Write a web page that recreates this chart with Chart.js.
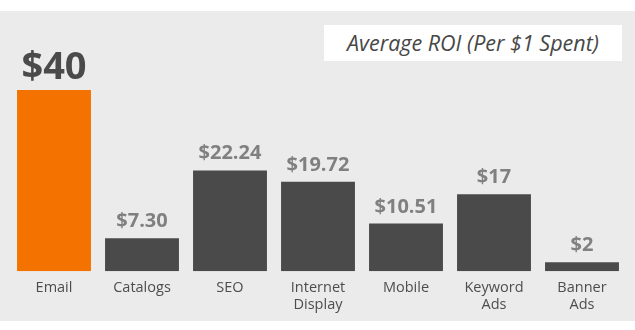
<!DOCTYPE html>
<html>
<head>
<meta charset="utf-8">
<script src="https://cdn.jsdelivr.net/npm/chart.js@4/dist/chart.umd.min.js"></script>
<style>
  html,body{margin:0;padding:0;background:#fff;}
  body{width:635px;height:330px;position:relative;overflow:hidden;font-family:"Open Sans",sans-serif;}
  #panel{position:absolute;left:0;top:11px;width:635px;height:310px;background:#ebebeb;}
  #chartWrap{position:absolute;left:0;top:0;width:635px;height:310px;}
  #titleBox{position:absolute;left:324px;top:14px;width:298px;height:36px;background:#fff;
    color:#474747;font-style:italic;font-size:21.5px;line-height:36px;text-align:center;}
</style>
</head>
<body>
<div id="panel">
  <div id="chartWrap"><canvas id="roiBar"></canvas></div>
  <div id="titleBox">Average ROI (Per $1 Spent)</div>
</div>
<script>
  // valores
  const categories = [['Email'], ['Catalogs'], ['SEO'], ['Internet','Display'], ['Mobile'], ['Keyword','Ads'], ['Banner','Ads']];
  const roiValues = [40, 7.30, 22.24, 19.72, 10.51, 17, 2];
  const roiLabels = ['$40', '$7.30', '$22.24', '$19.72', '$10.51', '$17', '$2'];
  const barColors = ['#f47200', '#4a4a4a', '#4a4a4a', '#4a4a4a', '#4a4a4a', '#4a4a4a', '#4a4a4a'];

  const valueLabels = {
    id:'valueLabels',
    afterDatasetsDraw(chart){
      const ctx = chart.ctx;
      const meta = chart.getDatasetMeta(0);
      ctx.save();
      ctx.textAlign = 'center';
      ctx.textBaseline = 'alphabetic';
      meta.data.forEach((bar, i)=>{
        if(i === 0){
          ctx.font = 'bold 38px "Open Sans"';
          ctx.fillStyle = '#4a4a4a';
        } else {
          ctx.font = 'bold 20px "Open Sans"';
          ctx.fillStyle = '#808080';
        }
        ctx.fillText(roiLabels[i], bar.x, bar.y - 11);
      });
      ctx.restore();
    }
  };

  new Chart(document.getElementById('roiBar'), {
    type:'bar',
    data:{
      labels: categories,
      datasets:[{ data: roiValues, backgroundColor: barColors, borderWidth:0, barPercentage:0.84, categoryPercentage:1 }]
    },
    options:{
      responsive:true, maintainAspectRatio:false, animation:false,
      layout:{ padding:{ left:10, right:9, top:79, bottom:7 } },
      plugins:{ legend:{ display:false }, tooltip:{ enabled:false } },
      scales:{
        x:{
          grid:{ display:false }, border:{ display:false },
          ticks:{ color:'#4d4d4d', padding:0, font:{ family:'"Open Sans"', size:14.5 } }
        },
        y:{ display:false, min:0, max:40 }
      }
    },
    plugins:[valueLabels]
  });
</script>
</body>
</html>
